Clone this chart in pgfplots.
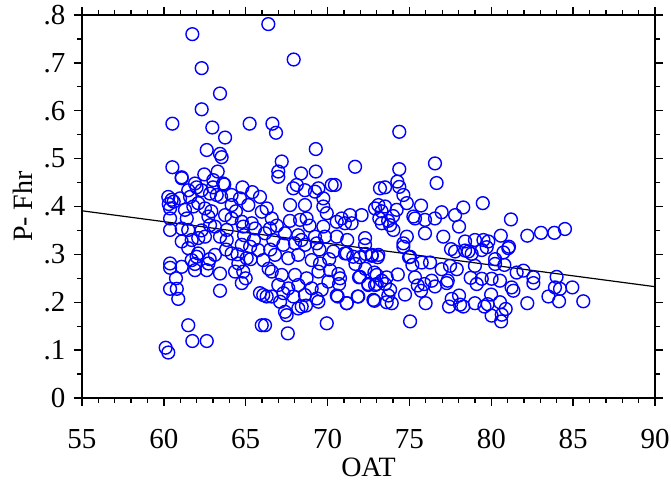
\documentclass[border=0pt]{standalone}
\usepackage{fontspec}
\setmainfont{Liberation Serif}
\usepackage{pgfplots}
\pgfplotsset{compat=1.18}
\usepackage{pgfplotstable}
\definecolor{ptblue}{RGB}{0,0,255}
\pgfplotstableread{
x y
61.74 0.760
66.38 0.781
62.31 0.689
67.93 0.707
63.43 0.636
62.31 0.603
60.52 0.573
65.24 0.573
66.63 0.573
62.96 0.565
66.85 0.554
63.74 0.544
62.62 0.518
69.28 0.520
63.43 0.510
63.53 0.503
67.20 0.494
60.52 0.482
61.09 0.461
63.29 0.473
62.47 0.467
66.99 0.473
66.99 0.462
69.28 0.473
68.38 0.469
63.69 0.446
74.38 0.556
71.68 0.483
76.56 0.490
76.66 0.449
74.38 0.478
73.51 0.440
74.26 0.452
74.38 0.441
74.63 0.424
74.84 0.407
79.48 0.407
70.45 0.445
75.71 0.402
78.29 0.398
81.20 0.373
84.50 0.353
83.85 0.345
83.04 0.345
82.20 0.339
80.58 0.339
74.63 0.316
71.17 0.302
71.98 0.294
72.33 0.301
72.70 0.297
73.06 0.294
74.98 0.294
75.18 0.278
75.75 0.283
76.26 0.283
77.48 0.276
77.89 0.269
78.40 0.308
78.80 0.301
79.00 0.276
79.72 0.315
80.23 0.290
80.74 0.304
81.04 0.313
80.80 0.278
80.23 0.280
81.55 0.262
81.96 0.266
82.57 0.252
82.57 0.240
83.99 0.253
83.89 0.231
84.20 0.228
84.95 0.231
83.49 0.212
84.14 0.202
85.62 0.202
82.20 0.198
81.24 0.231
81.35 0.224
80.53 0.245
80.02 0.249
79.42 0.249
79.11 0.238
78.74 0.251
79.99 0.216
79.78 0.196
79.58 0.191
80.53 0.200
80.02 0.172
80.64 0.174
80.60 0.160
80.88 0.186
79.00 0.198
78.29 0.191
78.09 0.195
78.03 0.214
77.58 0.207
77.42 0.191
77.34 0.245
77.28 0.240
76.97 0.269
76.56 0.233
76.36 0.245
75.99 0.198
75.91 0.238
75.71 0.224
75.51 0.235
75.34 0.252
74.73 0.216
75.04 0.160
74.29 0.258
73.82 0.226
73.71 0.214
73.92 0.198
73.61 0.200
73.51 0.238
73.61 0.252
73.31 0.245
73.00 0.238
72.86 0.203
72.49 0.238
72.86 0.262
71.92 0.252
71.84 0.212
71.17 0.198
70.66 0.259
70.70 0.238
70.56 0.214
79.82 0.327
81.08 0.316
73.10 0.403
73.51 0.400
74.22 0.393
73.16 0.375
73.31 0.365
73.82 0.361
74.02 0.351
75.24 0.379
75.34 0.375
75.95 0.372
75.95 0.344
76.56 0.375
76.97 0.388
77.79 0.382
78.03 0.358
77.07 0.337
77.54 0.311
74.84 0.337
74.63 0.323
73.10 0.299
75.04 0.295
78.40 0.327
79.00 0.330
79.52 0.330
78.60 0.306
79.42 0.309
77.79 0.306
73.30 0.390
73.70 0.370
74.00 0.380
67.91 0.438
68.12 0.445
68.62 0.434
69.23 0.431
69.44 0.438
70.25 0.445
69.74 0.417
67.71 0.403
68.62 0.403
69.74 0.400
66.28 0.396
66.59 0.375
68.32 0.372
68.72 0.375
69.95 0.386
70.86 0.375
71.37 0.382
72.08 0.382
71.47 0.365
71.06 0.365
70.56 0.368
69.74 0.358
69.84 0.337
70.56 0.337
69.23 0.337
68.21 0.340
67.40 0.344
66.48 0.354
66.68 0.330
67.30 0.320
68.01 0.323
68.62 0.320
69.34 0.323
70.35 0.306
71.06 0.302
72.29 0.320
72.29 0.334
72.90 0.396
73.20 0.438
66.79 0.299
67.60 0.292
68.21 0.299
69.03 0.288
69.54 0.281
71.57 0.295
72.70 0.299
66.28 0.212
66.18 0.152
67.57 0.135
69.95 0.156
67.40 0.180
67.50 0.173
68.42 0.191
68.21 0.187
68.68 0.193
67.10 0.201
66.59 0.212
67.30 0.219
67.91 0.212
68.62 0.215
69.44 0.201
69.34 0.208
70.62 0.212
71.17 0.198
71.88 0.212
72.80 0.205
66.99 0.236
67.60 0.229
68.21 0.236
69.03 0.229
69.64 0.226
70.05 0.243
70.76 0.250
68.72 0.250
68.01 0.257
67.20 0.257
66.59 0.264
69.44 0.264
70.15 0.267
71.98 0.253
73.00 0.257
72.49 0.236
72.90 0.236
61.09 0.459
61.90 0.448
63.02 0.455
63.63 0.448
60.27 0.420
60.48 0.414
60.99 0.417
61.49 0.434
62.31 0.434
62.82 0.427
63.23 0.424
64.14 0.424
64.65 0.417
65.87 0.420
60.38 0.396
61.29 0.393
62.10 0.407
62.51 0.396
64.14 0.403
65.16 0.403
65.98 0.389
60.38 0.375
61.40 0.375
62.72 0.379
63.74 0.382
64.14 0.375
64.76 0.368
65.37 0.365
60.38 0.351
61.09 0.354
61.49 0.351
62.82 0.361
63.12 0.358
63.84 0.351
64.85 0.358
65.57 0.354
66.18 0.344
61.09 0.327
62.10 0.334
62.51 0.337
63.43 0.337
63.84 0.330
64.76 0.320
65.27 0.316
65.77 0.309
61.49 0.313
62.10 0.302
63.12 0.299
64.14 0.302
60.38 0.281
61.70 0.288
62.00 0.295
62.72 0.281
64.55 0.281
65.06 0.292
66.07 0.288
60.38 0.272
61.09 0.274
61.90 0.267
62.62 0.267
63.43 0.260
64.35 0.264
64.85 0.264
64.76 0.240
60.74 0.250
60.38 0.228
60.79 0.228
60.88 0.207
63.43 0.224
61.49 0.152
61.74 0.119
62.62 0.119
60.11 0.105
60.27 0.095
65.98 0.152
65.87 0.219
66.07 0.215
61.80 0.400
62.90 0.390
63.50 0.420
64.40 0.390
64.90 0.340
65.50 0.330
62.30 0.350
61.70 0.330
63.80 0.310
64.50 0.300
65.30 0.290
66.50 0.310
66.90 0.360
67.70 0.370
68.40 0.330
68.90 0.360
69.50 0.310
70.10 0.290
71.20 0.330
71.70 0.280
72.30 0.270
66.40 0.270
65.00 0.250
62.80 0.290
61.90 0.280
60.60 0.410
60.30 0.405
61.60 0.420
62.00 0.440
63.00 0.440
64.80 0.440
65.40 0.430
}\pts
\begin{document}
\begin{tikzpicture}
\begin{axis}[
  name=ax,
  scale only axis,
  width=573pt, height=383pt,
  xmin=55, xmax=90, ymin=0, ymax=0.8,
  xtick={55,60,65,70,75,80,85,90},
  xticklabels={55,60,65,70,75,80,85,90},
  ytick={0,0.1,0.2,0.3,0.4,0.5,0.6,0.7,0.8},
  yticklabels={0,.1,.2,.3,.4,.5,.6,.7,.8},
  minor x tick num=4,
  minor y tick num=1,
  tick align=outside,
  major tick length=8pt,
  minor tick length=5pt,
  axis line style={line width=1.8pt},
  every tick/.style={black, line width=1.3pt},
  ticklabel style={font=\fontsize{29}{32}\selectfont},
  xticklabel style={yshift=-20pt},
  yticklabel style={xshift=-5pt},
  label style={font=\fontsize{28}{32}\selectfont},
  xlabel={OAT},
  ylabel={P- Fhr},
  xlabel style={yshift=-2pt},
  ylabel style={yshift=4pt},
  clip=false,
]
\addplot[only marks, mark=o, mark size=6.4pt, draw=ptblue, mark options={line width=1.4pt}] table[x=x,y=y] {\pts};
\addplot[black, line width=1.2pt] coordinates {(55,0.391) (90,0.2325)};
\end{axis}
\pgfresetboundingbox
\path (ax.south west) ++(-82pt,-90pt) rectangle ([shift={(16pt,15pt)}]ax.north east);
\end{tikzpicture}
\end{document}
